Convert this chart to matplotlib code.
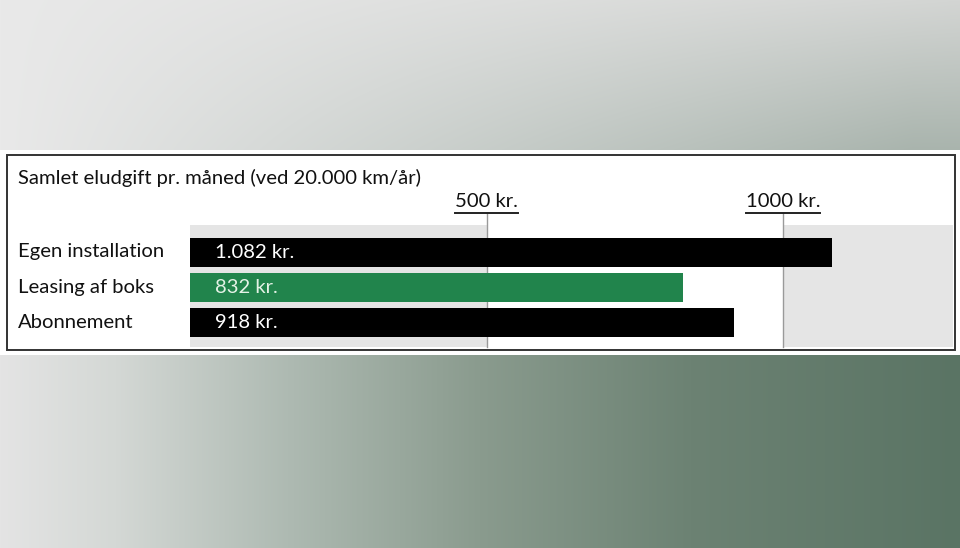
import numpy as np
import matplotlib
matplotlib.use("Agg")
import matplotlib.pyplot as plt
from matplotlib.patches import Rectangle
from matplotlib.lines import Line2D

title = "Samlet eludgift pr. måned (ved 20.000 km/år)"
categories = ["Egen installation", "Leasing af boks", "Abonnement"]
values = [1082, 832, 918]
value_labels = ["1.082 kr.", "832 kr.", "918 kr."]
bar_colors = ["#000000", "#21844c", "#000000"]
label_colors = ["#ffffff", "#e4f2e6", "#ffffff"]
ticks = [500, 1000]
tick_labels = ["500 kr.", "1000 kr."]

W, H = 960, 548
FS = 14.6
plt.rcParams['font.family'] = ['Lato', 'DejaVu Sans']
fig = plt.figure(figsize=(W / 100, H / 100), dpi=100)

# ---- background gradient ----
bg = fig.add_axes([0, 0, 1, 1])
bg.set_axis_off()
xs = np.linspace(0, 1, W)
X, _ = np.meshgrid(xs, np.linspace(0, 1, H))
tl = np.array([0xe9, 0xe9, 0xe9]) / 255
tr = np.array([0xd3, 0xd5, 0xd3]) / 255
br_ = np.array([0xa9, 0xb4, 0xad]) / 255
yt = np.clip(np.arange(H) / 150.0, 0, 1)[:, None]
top = np.zeros((H, W, 3))
for c in range(3):
    col_top = tl[c] + (tr[c] - tl[c]) * X
    col_bot = tl[c] + (br_[c] - tl[c]) * np.clip(X * 1.05, 0, 1)
    top[:, :, c] = col_top + (col_bot - col_top) * yt
stops_x = [0.0, 0.12, 0.3, 0.5, 0.72, 1.0]
stops_c = np.array([(0xe4, 0xe4, 0xe4), (0xd4, 0xd8, 0xd5), (0xae, 0xba, 0xb2),
                    (0x8a, 0x9b, 0x8e), (0x6c, 0x82, 0x73), (0x5a, 0x74, 0x64)]) / 255
bot_row = np.stack([np.interp(xs, stops_x, stops_c[:, c]) for c in range(3)], axis=1)
bot = np.broadcast_to(bot_row, (H, W, 3))
rows = np.arange(H)[:, None, None]
img = np.where(rows < 150, top, np.where(rows > 354, bot, 1.0))
bg.imshow(img, extent=[0, W, H, 0], aspect='auto', interpolation='bilinear')
bg.set_xlim(0, W)
bg.set_ylim(H, 0)
bg.add_patch(Rectangle((7, 155), 948, 195, fill=False, edgecolor="#333333", lw=1.4))

# ---- chart axes ----
x0, x1 = 190, 953
ytop, ybot = 225, 347
px_per = (783 - 190) / 1000
ax = fig.add_axes([x0 / W, (H - ybot) / H, (x1 - x0) / W, (ybot - ytop) / H])
ax.set_facecolor("none")
xmax = (x1 - x0) / px_per
ax.set_xlim(0, xmax)
pitch = 35.25
c0 = 252
ax.set_ylim((ybot - c0) / pitch, (ytop - c0) / pitch)
for s in ax.spines.values():
    s.set_visible(False)
ax.set_xticks([])
ax.set_yticks([])

ax.axvspan(0, ticks[0], color="#e5e5e5", lw=0, zorder=0)
ax.axvspan(ticks[1], xmax, color="#e5e5e5", lw=0, zorder=0)
top_frac = 1 + (ytop - 213) / (ybot - ytop)
for tk in ticks:
    ax.axvline(tk, ymin=0, ymax=top_frac, color="#9a9a9a", lw=1, clip_on=False, zorder=1)

ypos = np.arange(len(categories))
ax.barh(ypos, values, height=29 / pitch, color=bar_colors, zorder=2)

for i, (lab, vl) in enumerate(zip(categories, value_labels)):
    fig.text(18 / W, (H - (c0 + i * pitch)) / H, lab, fontsize=FS, color="#111111",
             va="center", ha="left")
    ax.text((215 - x0) / px_per, i, vl, fontsize=FS, color=label_colors[i],
            va="center", ha="left", zorder=3)

fig.text(18 / W, (H - 178) / H, title, fontsize=FS, color="#111111", va="center", ha="left")

tick_texts = []
for tk, tl_ in zip(ticks, tick_labels):
    xd = x0 + tk * px_per
    tt = fig.text(xd / W, (H - 207) / H, tl_, fontsize=FS, color="#111111",
                  ha="center", va="baseline")
    tick_texts.append(tt)
fig.canvas.draw()
r = fig.canvas.get_renderer()
for tt in tick_texts:
    bb = tt.get_window_extent(r)
    yline = (H - 213) / H
    fig.add_artist(Line2D([bb.x0 / W, bb.x1 / W], [yline, yline], color="#222222", lw=1.4))

fig.savefig("out.png", dpi=100)
